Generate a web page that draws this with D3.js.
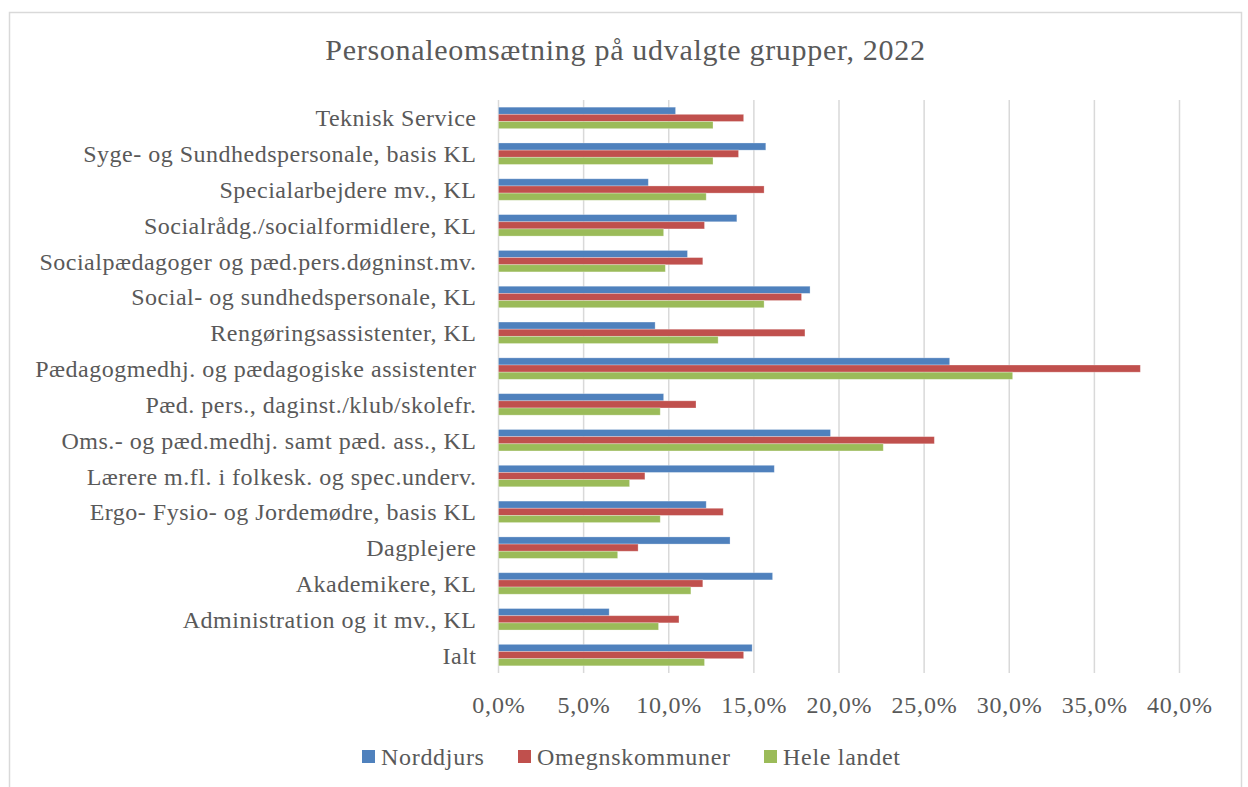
<!DOCTYPE html>
<html>
<head>
<meta charset="utf-8">
<script src="https://cdn.jsdelivr.net/npm/d3@7"></script>
<style>
  body { margin: 0; background: #fff; }
  text { font-family: "Liberation Serif", serif; fill: #595959; }
</style>
</head>
<body>
<script>

var Width = 1248;
var Height = 787;

// categories, top to bottom as shown
var categories = [
  "Teknisk Service",
  "Syge- og Sundhedspersonale, basis KL",
  "Specialarbejdere mv., KL",
  "Socialrådg./socialformidlere, KL",
  "Socialpædagoger og pæd.pers.døgninst.mv.",
  "Social- og sundhedspersonale, KL",
  "Rengøringsassistenter, KL",
  "Pædagogmedhj. og pædagogiske assistenter",
  "Pæd. pers., daginst./klub/skolefr.",
  "Oms.- og pæd.medhj. samt pæd. ass., KL",
  "Lærere m.fl. i folkesk. og spec.underv.",
  "Ergo- Fysio- og Jordemødre, basis KL",
  "Dagplejere",
  "Akademikere, KL",
  "Administration og it mv., KL",
  "Ialt"
];

var seriesNames = ["Norddjurs", "Omegnskommuner", "Hele landet"];
var seriesColors = ["#4f81bd", "#c0504d", "#9bbb59"];

// percent values
var norddjurs = [10.4, 15.7, 8.8, 14.0, 11.1, 18.3, 9.2, 26.5, 9.7, 19.5, 16.2, 12.2, 13.6, 16.1, 6.5, 14.9];
var omegn     = [14.4, 14.1, 15.6, 12.1, 12.0, 17.8, 18.0, 37.7, 11.6, 25.6, 8.6, 13.2, 8.2, 12.0, 10.6, 14.4];
var hele      = [12.6, 12.6, 12.2, 9.7, 9.8, 15.6, 12.9, 30.2, 9.5, 22.6, 7.7, 9.5, 7.0, 11.3, 9.4, 12.1];

var xTicks = [0, 5, 10, 15, 20, 25, 30, 35, 40];

var title = "Personaleomsætning på udvalgte grupper, 2022";

function main () {
  var svg = d3.select("body").append("svg")
    .attr("width", Width)
    .attr("height", Height);

  // chart border
  svg.append("rect")
    .attr("x", 9.5).attr("y", 12.5)
    .attr("width", 1232).attr("height", 800)
    .attr("fill", "none")
    .attr("stroke", "#d9d9d9")
    .attr("stroke-width", 1.5);

  var left = 498.5, right = 1179.5, top = 100, bottom = 673;

  var xScale = d3.scaleLinear().domain([0, 40]).range([left, right]);
  var yScale = d3.scaleBand()
    .domain(categories)
    .range([top, bottom])
    .paddingInner(0.4)
    .paddingOuter(0.2);
  var subScale = d3.scaleBand()
    .domain(d3.range(3))
    .range([0, yScale.bandwidth()]);

  // gridlines
  svg.append("g").selectAll("line")
    .data(xTicks)
    .enter().append("line")
    .attr("x1", function(d) { return xScale(d); })
    .attr("x2", function(d) { return xScale(d); })
    .attr("y1", top).attr("y2", bottom)
    .attr("stroke", "#d9d9d9")
    .attr("stroke-width", 1.5);

  // x tick labels
  svg.append("g").selectAll("text")
    .data(xTicks)
    .enter().append("text")
    .attr("x", function(d) { return xScale(d) + 0.4; })
    .attr("y", 712.5)
    .attr("text-anchor", "middle")
    .style("font-size", "24px")
    .style("letter-spacing", "0.8px")
    .text(function(d) { return d.toFixed(1).replace(".", ",") + "%"; });

  // bars
  var rows = categories.map(function(c, i) {
    return { cat: c, vals: [norddjurs[i], omegn[i], hele[i]] };
  });

  var groups = svg.append("g").selectAll("g")
    .data(rows)
    .enter().append("g")
    .attr("transform", function(d) { return "translate(0," + yScale(d.cat) + ")"; });

  groups.selectAll("rect")
    .data(function(d) { return d.vals; })
    .enter().append("rect")
    .attr("x", xScale(0))
    .attr("y", function(d, i) { return subScale(i); })
    .attr("width", function(d) { return xScale(d) - xScale(0); })
    .attr("height", subScale.bandwidth())
    .attr("fill", function(d, i) { return seriesColors[i]; })
    .attr("stroke", "#fff")
    .attr("stroke-opacity", 0.35)
    .attr("stroke-width", 0.8);

  // category labels
  svg.append("g").selectAll("text")
    .data(categories)
    .enter().append("text")
    .attr("x", 476.5)
    .attr("y", function(d) { return yScale(d) + yScale.bandwidth() / 2 + 8.5; })
    .attr("text-anchor", "end")
    .style("font-size", "24px")
    .style("letter-spacing", "0.5px")
    .text(function(d) { return d; });

  // title
  svg.append("text")
    .attr("x", 625.5)
    .attr("y", 60)
    .attr("text-anchor", "middle")
    .style("font-size", "30px")
    .style("letter-spacing", "0.7px")
    .text(title);

  // legend
  var legendX = [362, 518, 764];
  var legend = svg.append("g").selectAll("g")
    .data(seriesNames)
    .enter().append("g")
    .attr("transform", function(d, i) { return "translate(" + legendX[i] + ",750)"; });
  legend.append("rect")
    .attr("width", 13).attr("height", 13)
    .attr("fill", function(d, i) { return seriesColors[i]; });
  legend.append("text")
    .attr("x", 19).attr("y", 15)
    .style("font-size", "24px")
    .style("letter-spacing", "0.7px")
    .text(function(d) { return d; });
}

main();
</script>
</body>
</html>
